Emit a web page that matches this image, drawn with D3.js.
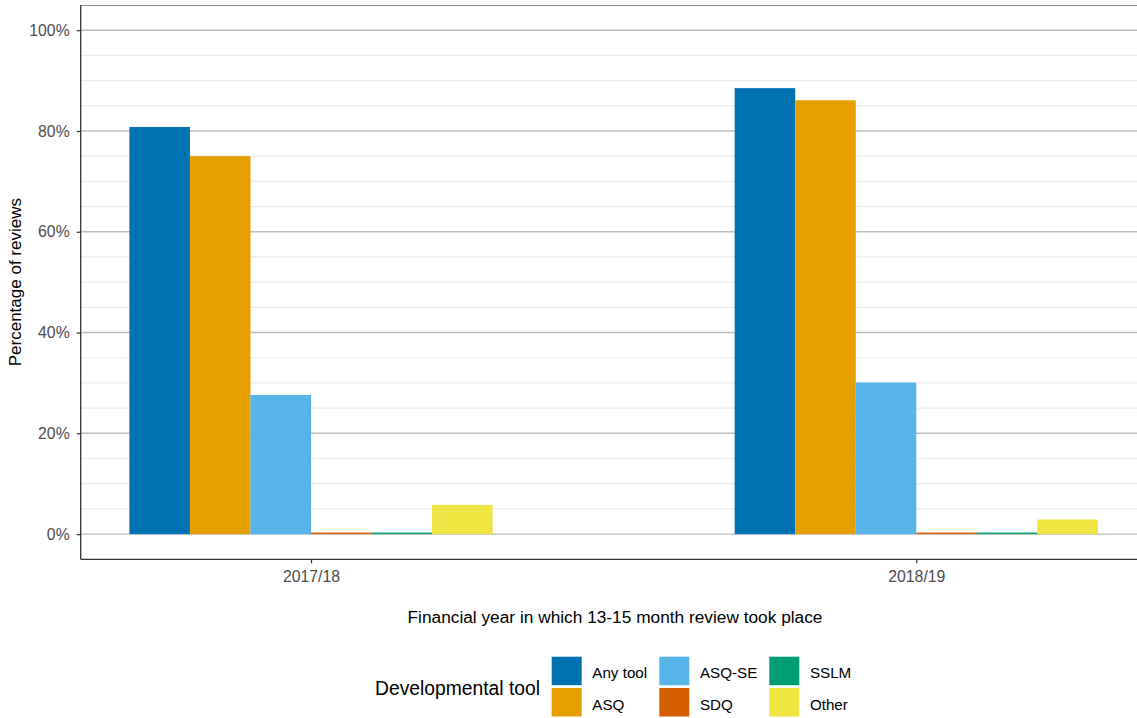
<!DOCTYPE html>
<html>
<head>
<meta charset="utf-8">
<script src="https://cdn.jsdelivr.net/npm/d3@7/dist/d3.min.js"></script>
<style>
  html, body { margin: 0; padding: 0; background: #fff; }
  svg { display: block; font-family: "Liberation Sans", Arial, sans-serif; }
</style>
</head>
<body>
<svg id="chart" width="1137" height="718"></svg>
<script>
const categories = ["2017/18", "2018/19"];
const seriesNames = ["Any tool", "ASQ", "ASQ-SE", "SDQ", "SSLM", "Other"];
const anyTool = [80.8, 88.5];
const asq = [75.0, 86.1];
const asqSe = [27.6, 30.1];
const sdq = [0.3, 0.3];
const sslm = [0.3, 0.3];
const other = [5.8, 2.9];
const seriesColors = ["#0072B2", "#E69F00", "#56B4E9", "#D55E00", "#009E73", "#F0E442"];
const yMajorTicks = [0, 20, 40, 60, 80, 100];
const yMinorTicks = [5, 10, 15, 25, 30, 35, 45, 50, 55, 65, 70, 75, 85, 90, 95];

const seriesValues = [anyTool, asq, asqSe, sdq, sslm, other];
const data = [];
categories.forEach((c, i) => {
  seriesNames.forEach((s, j) => data.push({ cat: c, series: s, value: seriesValues[j][i] }));
});

const svg = d3.select("#chart");
const panel = { left: 80.7, right: 1146.6, top: 5, bottom: 559.3 };

const y = d3.scaleLinear().domain([-5, 105]).range([panel.bottom, panel.top]);
const x = d3.scalePoint().domain(categories).range([panel.left, panel.right]).padding(0.3805);
const groupHalf = 181.6;
const xInner = d3.scaleBand().domain(seriesNames).range([-groupHalf, groupHalf]);
const color = d3.scaleOrdinal().domain(seriesNames).range(seriesColors);

const g = svg.append("g");

// grid
g.selectAll("line.minor").data(yMinorTicks).join("line")
  .attr("x1", panel.left).attr("x2", 1137)
  .attr("y1", d => y(d)).attr("y2", d => y(d))
  .attr("stroke", "#ebebeb").attr("stroke-width", 1.2);
g.selectAll("line.major").data(yMajorTicks).join("line")
  .attr("x1", panel.left).attr("x2", 1137)
  .attr("y1", d => y(d)).attr("y2", d => y(d))
  .attr("stroke", "#bdbdbd").attr("stroke-width", 1.4);

// top border
g.append("line").attr("x1", panel.left).attr("x2", 1137)
  .attr("y1", panel.top + 0.5).attr("y2", panel.top + 0.5)
  .attr("stroke", "#8c8c8c").attr("stroke-width", 1.2);

// bars
g.selectAll("rect.bar").data(data).join("rect")
  .attr("x", d => x(d.cat) + xInner(d.series))
  .attr("width", xInner.bandwidth())
  .attr("y", d => y(d.value))
  .attr("height", d => y(0) - y(d.value))
  .attr("fill", d => color(d.series));

// axes
const yAxis = d3.axisLeft(y).tickValues(yMajorTicks).tickFormat(d => d + "%").tickSize(4).tickPadding(7);
const yg = svg.append("g").attr("transform", `translate(${panel.left},0)`).call(yAxis);
yg.select(".domain").remove();
yg.selectAll(".tick line").attr("stroke", "#333").attr("stroke-width", 1.2);
yg.selectAll(".tick text").attr("fill", "#4d4d4d").style("font-size", "15.8px")
  .style("font-family", "'Liberation Sans', Arial, sans-serif");

const xAxis = d3.axisBottom(x).tickSize(4).tickPadding(7);
const xg = svg.append("g").attr("transform", `translate(0,${panel.bottom})`).call(xAxis);
xg.select(".domain").remove();
xg.selectAll(".tick line").attr("stroke", "#333").attr("stroke-width", 1.2);
xg.selectAll(".tick text").attr("fill", "#4d4d4d").style("font-size", "15.8px")
  .style("font-family", "'Liberation Sans', Arial, sans-serif");

// axis lines
svg.append("line").attr("x1", panel.left).attr("x2", panel.left)
  .attr("y1", panel.top).attr("y2", panel.bottom)
  .attr("stroke", "#333").attr("stroke-width", 1.3);
svg.append("line").attr("x1", panel.left).attr("x2", 1137)
  .attr("y1", panel.bottom).attr("y2", panel.bottom)
  .attr("stroke", "#333").attr("stroke-width", 1.3);

// axis titles
svg.append("text").attr("x", 615).attr("y", 623).attr("text-anchor", "middle")
  .style("font-size", "17.3px").attr("fill", "#000")
  .text("Financial year in which 13-15 month review took place");
svg.append("text").attr("transform", `translate(21,${(panel.top + panel.bottom) / 2}) rotate(-90)`)
  .attr("text-anchor", "middle").style("font-size", "17px").attr("fill", "#000")
  .text("Percentage of reviews");

// legend
const legend = svg.append("g");
legend.append("text").attr("x", 375).attr("y", 695).style("font-size", "19.3px").attr("fill", "#000")
  .text("Developmental tool");
const colX = [551.7, 659.3, 769.3];
const rowY = [656.7, 688];
seriesNames.forEach((s, i) => {
  const col = Math.floor(i / 2), row = i % 2;
  legend.append("rect").attr("x", colX[col]).attr("y", rowY[row])
    .attr("width", 30).attr("height", 28.5).attr("fill", color(s));
  legend.append("text").attr("x", colX[col] + 40.6).attr("y", rowY[row] + 21.5)
    .style("font-size", "15.2px").attr("fill", "#000").text(s);
});
</script>
</body>
</html>
